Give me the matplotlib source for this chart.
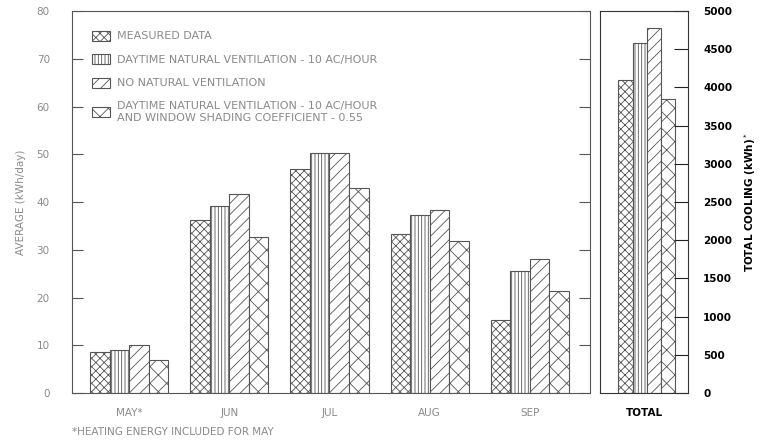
import numpy as np
import matplotlib.pyplot as plt

plt.rcParams['hatch.linewidth'] = 0.6

months = ["MAY*", "JUN", "JUL", "AUG", "SEP"]
series = ["MEASURED DATA",
          "DAYTIME NATURAL VENTILATION - 10 AC/HOUR",
          "NO NATURAL VENTILATION",
          "DAYTIME NATURAL VENTILATION - 10 AC/HOUR\nAND WINDOW SHADING COEFFICIENT - 0.55"]

# average daily energy (kWh/day)
measured = [8.6, 36.2, 47.0, 33.4, 15.2]
daytime = [9.0, 39.2, 50.2, 37.2, 25.6]
no_vent = [10.1, 41.7, 50.3, 38.3, 28.0]
shading = [6.9, 32.7, 43.0, 31.8, 21.4]

# total cooling (kWh)
totals = [4100, 4580, 4780, 3850]

hatches = ['xxxx', '|||||', '///', 'xx']
edge = '#555555'
grey = '#8a8a8a'

fig = plt.figure(figsize=(7.61, 4.46), dpi=100)
ax = fig.add_axes([0.0946, 0.1188, 0.6807, 0.8565])
ax2 = fig.add_axes([0.7884, 0.1188, 0.1156, 0.8565])

x = np.arange(len(months))
w = 0.195
for i, vals in enumerate([measured, daytime, no_vent, shading]):
    ax.bar(x + (i - 1.5) * w, vals, w, facecolor='white', edgecolor=edge,
           hatch=hatches[i], linewidth=0.8, label=series[i])

ax.set_xlim(-0.57, 4.6)
ax.set_ylim(0, 80)
ax.set_yticks(range(0, 81, 10))
ax.set_xticks(x)
ax.set_xticklabels(months)
ax.tick_params(axis='y', direction='in', length=8, pad=16, labelsize=7.5,
               labelcolor=grey, color=edge, right=True)
ax.tick_params(axis='x', length=0, pad=11, labelsize=7.5, labelcolor=grey)
for s in ax.spines.values():
    s.set_color(edge)
ax.set_ylabel("AVERAGE (kWh/day)", color=grey, fontsize=7.5, labelpad=8)
leg = ax.legend(loc='upper left', frameon=False, fontsize=8,
                bbox_to_anchor=(0.02, 0.975), handlelength=1.6, handleheight=1.0,
                labelspacing=1.15, handletextpad=0.6)
for t in leg.get_texts():
    t.set_color(grey)

wt = 0.16
for i, v in enumerate(totals):
    ax2.bar((i - 1.5) * wt + 0.03, v, wt, facecolor='white', edgecolor=edge,
            hatch=hatches[i], linewidth=0.8)
ax2.set_xlim(-0.5, 0.5)
ax2.set_ylim(0, 5000)
ax2.set_yticks(range(0, 5001, 500))
ax2.set_xticks([0])
ax2.set_xticklabels(["TOTAL"], fontweight='bold')
ax2.yaxis.tick_right()
ax2.yaxis.set_label_position('right')
ax2.tick_params(axis='y', direction='in', length=10, pad=11, labelsize=7.5,
                color='#222222', left=False)
for lab in ax2.get_yticklabels():
    lab.set_fontweight('bold')
ax2.tick_params(axis='x', length=0, pad=11, labelsize=7.5)
for s in ax2.spines.values():
    s.set_color('#333333')
ax2.set_ylabel("TOTAL COOLING (kWh)$^*$", fontsize=7.5, fontweight='bold',
               labelpad=7)

fig.text(0.0946, 0.025, "*HEATING ENERGY INCLUDED FOR MAY", color=grey,
         fontsize=7.5)

fig.savefig("out.png", dpi=100)
